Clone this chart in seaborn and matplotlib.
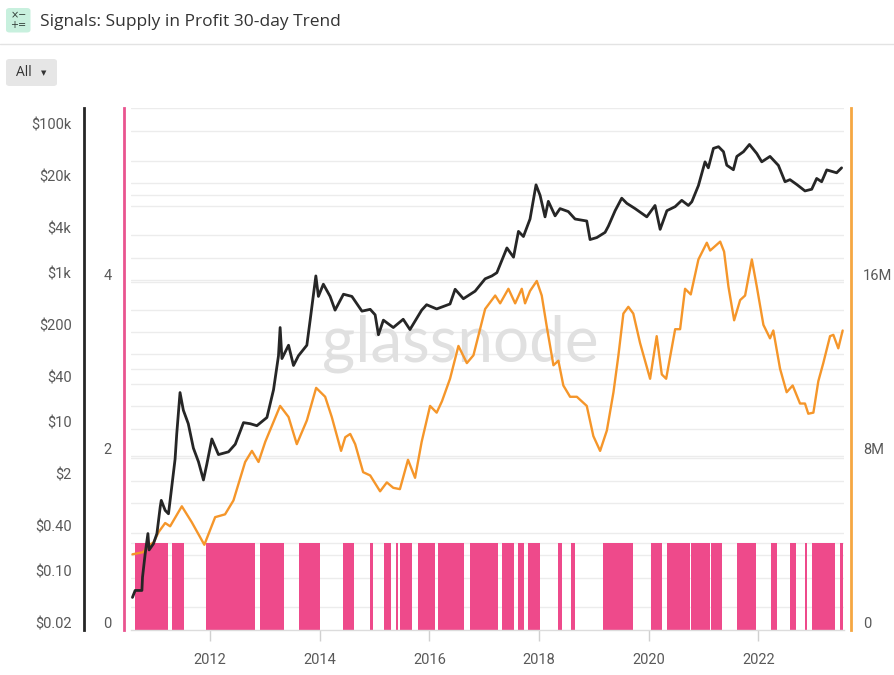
import numpy as np
import pandas as pd
import matplotlib
matplotlib.use('Agg')
import matplotlib.pyplot as plt
import matplotlib.dates as mdates
from matplotlib.transforms import ScaledTranslation, blended_transform_factory
from matplotlib.patches import FancyBboxPatch
from matplotlib.lines import Line2D
from matplotlib.ticker import FixedLocator, FixedFormatter, NullLocator
import seaborn as sns

# --- data ---
price_dates = ['2010-08-01', '2010-08-19', '2010-10-03', '2010-10-07', '2010-10-25', '2010-11-12',
               '2010-11-20', '2010-12-19', '2011-01-11', '2011-02-02', '2011-02-09', '2011-03-07',
               '2011-03-29', '2011-04-09', '2011-05-12', '2011-05-23', '2011-06-14', '2011-07-06',
               '2011-08-08', '2011-09-11', '2011-10-15', '2011-11-17', '2011-12-09', '2012-01-12',
               '2012-02-25', '2012-05-02', '2012-06-16', '2012-08-10', '2012-09-24', '2012-11-07',
               '2013-01-13', '2013-02-26', '2013-03-31', '2013-04-11', '2013-04-23', '2013-06-06',
               '2013-07-09', '2013-08-11', '2013-10-06', '2013-10-28', '2013-12-05', '2013-12-22',
               '2014-01-24', '2014-03-10', '2014-04-12', '2014-06-07', '2014-08-02', '2014-10-08',
               '2014-12-02', '2015-01-04', '2015-01-26', '2015-02-28', '2015-05-05', '2015-07-10',
               '2015-08-24', '2015-11-10', '2015-12-13', '2016-02-18', '2016-05-17', '2016-06-20',
               '2016-08-14', '2016-10-31', '2017-01-06', '2017-02-20', '2017-03-25', '2017-05-31',
               '2017-07-14', '2017-08-16', '2017-09-18', '2017-11-01', '2017-12-11', '2018-01-07',
               '2018-02-09', '2018-03-03', '2018-04-17', '2018-05-20', '2018-07-14', '2018-08-28',
               '2018-11-14', '2018-12-06', '2019-01-20', '2019-03-16', '2019-04-07', '2019-05-22',
               '2019-07-05', '2019-08-08', '2019-10-02', '2019-12-19', '2020-02-12', '2020-03-17',
               '2020-05-01', '2020-06-25', '2020-08-08', '2020-09-21', '2020-10-14', '2020-11-27',
               '2021-01-10', '2021-02-01', '2021-03-07', '2021-04-10', '2021-05-13', '2021-06-04',
               '2021-07-18', '2021-08-10', '2021-09-23', '2021-11-02', '2021-12-21', '2022-01-23',
               '2022-03-19', '2022-05-14', '2022-06-27', '2022-07-30', '2022-09-13', '2022-11-07',
               '2022-12-22', '2023-01-24', '2023-02-26', '2023-04-01', '2023-06-06', '2023-07-09']
price_usd = [0.054, 0.067, 0.067, 0.101, 0.21, 0.39, 0.235, 0.285, 0.39, 0.89, 1.09, 0.8,
             0.72, 1.09, 3.9, 8.5, 30.7, 17.8, 11.7, 5.5, 3.6, 2.05, 3.3, 7.3,
             4.5, 4.9, 6.2, 12.1, 11.7, 11.0, 14.2, 33.5, 96, 230, 88, 133,
             71, 96, 133, 289, 1137, 603, 880, 603, 394, 645, 603, 382,
             404, 341, 184, 289, 230, 297, 216, 394, 466, 409, 477, 752,
             561, 709, 1040, 1137, 1256, 2704, 2030, 4517, 3852, 6624, 19071, 13786,
             7078, 11455, 7306, 9143, 8340, 6624, 6226, 3506, 3729, 4378, 5305, 8570,
             12622, 10762, 9143, 7078, 10071, 4809, 8570, 9718, 11802, 10071, 11290, 18650,
             38900, 32300, 59000, 62150, 53200, 35050, 30450, 46000, 53200, 66600, 50300, 38900,
             46000, 34800, 21000, 22400, 19300, 15800, 16650, 23250, 21000, 30300, 27700, 32300]

supply_dates = ['2010-08-01', '2010-10-12', '2010-11-15', '2010-12-19', '2011-01-22', '2011-03-07',
                '2011-04-09', '2011-06-26', '2011-08-31', '2011-11-23', '2012-02-03', '2012-04-09',
                '2012-06-04', '2012-08-21', '2012-10-05', '2012-11-18', '2013-01-02', '2013-04-11',
                '2013-06-06', '2013-07-31', '2013-10-06', '2013-12-07', '2014-02-05', '2014-03-21',
                '2014-05-22', '2014-06-19', '2014-07-22', '2014-08-24', '2014-10-16', '2014-12-02',
                '2015-02-06', '2015-03-23', '2015-05-05', '2015-06-18', '2015-08-11', '2015-09-27',
                '2015-11-10', '2016-01-05', '2016-02-18', '2016-03-24', '2016-05-17', '2016-07-12',
                '2016-09-06', '2016-10-20', '2017-01-06', '2017-03-14', '2017-04-16', '2017-06-10',
                '2017-07-25', '2017-09-07', '2017-09-29', '2017-11-01', '2017-12-16', '2018-01-18',
                '2018-02-21', '2018-04-06', '2018-05-09', '2018-06-11', '2018-07-26', '2018-09-09',
                '2018-11-14', '2018-12-28', '2019-02-11', '2019-03-28', '2019-05-11', '2019-06-13',
                '2019-07-16', '2019-08-18', '2019-09-20', '2019-11-04', '2020-01-10', '2020-02-23',
                '2020-03-28', '2020-04-26', '2020-06-25', '2020-07-28', '2020-08-30', '2020-10-07',
                '2020-11-27', '2021-01-22', '2021-02-13', '2021-04-21', '2021-05-17', '2021-06-15',
                '2021-07-23', '2021-09-01', '2021-10-04', '2021-11-18', '2021-12-21', '2022-02-03',
                '2022-03-19', '2022-04-10', '2022-05-25', '2022-07-08', '2022-08-17', '2022-10-05',
                '2022-11-07', '2022-11-29', '2023-01-02', '2023-02-04', '2023-03-09', '2023-04-23',
                '2023-05-15', '2023-06-17', '2023-07-16']
# supply in profit, millions of BTC
supply_m = [3.46, 3.56, 3.87, 4.0, 4.48, 4.9, 4.75, 5.67, 4.94, 3.9, 5.17, 5.3,
            5.94, 7.71, 8.22, 7.71, 8.64, 10.29, 9.78, 8.53, 9.62, 11.12, 10.71, 9.78,
            8.22, 8.85, 9.0, 8.53, 7.24, 7.09, 6.36, 6.77, 6.52, 6.46, 7.81, 6.98,
            8.64, 10.29, 9.98, 10.5, 11.54, 13.05, 12.26, 12.62, 14.75, 15.37, 15.01, 15.68,
            15.01, 15.68, 15.01, 15.58, 16.04, 15.37, 13.92, 12.16, 12.37, 11.23, 10.71, 10.71,
            10.29, 8.9, 8.22, 9.16, 10.92, 12.62, 14.54, 14.85, 14.54, 13.19, 11.54, 13.5,
            11.74, 11.54, 13.82, 13.82, 15.68, 15.42, 17.03, 17.8, 17.44, 17.85, 17.39, 15.78,
            14.23, 15.16, 15.37, 17.03, 15.78, 14.02, 13.4, 13.76, 12.0, 10.92, 11.23, 10.4,
            10.4, 9.93, 9.98, 11.43, 12.26, 13.5, 13.56, 12.94, 13.76]

# periods where the 30-day trend signal is on (value 1)
signal_start = ['2010-08-19', '2011-04-21', '2011-12-03', '2012-11-29', '2013-08-16', '2014-06-03',
                '2014-12-02', '2015-03-04', '2015-05-23', '2015-06-19', '2015-10-15', '2016-02-26',
                '2016-09-27', '2017-04-26', '2017-08-14', '2017-10-19', '2018-05-09', '2018-07-30',
                '2019-02-27', '2020-01-16', '2020-04-29', '2020-10-07', '2021-02-20', '2021-08-10',
                '2022-03-26', '2022-07-30', '2022-11-07', '2022-12-22', '2023-06-28']
signal_end = ['2011-03-29', '2011-07-13', '2012-10-27', '2013-05-08', '2014-01-03', '2014-08-13',
              '2014-12-24', '2015-04-18', '2015-06-08', '2015-09-05', '2016-02-10', '2016-08-15',
              '2017-04-03', '2017-07-18', '2017-09-23', '2018-01-04', '2018-06-03', '2018-08-28',
              '2019-09-16', '2020-03-30', '2020-10-03', '2021-02-10', '2021-05-01', '2021-12-16',
              '2022-05-03', '2022-09-09', '2022-11-18', '2023-05-26', '2023-07-16']
signal_value = 1

price_ticks = [0.02, 0.1, 0.4, 2, 10, 40, 200, 1000, 4000, 20000, 100000]
price_tick_labels = ['$0.02', '$0.10', '$0.40', '$2', '$10', '$40', '$200', '$1k', '$4k', '$20k', '$100k']
price_grid = [0.04, 0.1, 0.2, 0.4, 1, 2, 4, 10, 20, 40, 100, 200, 400,
              1000, 2000, 4000, 10000, 20000, 40000, 100000]
signal_ticks = [0, 2, 4]
supply_ticks = [0, 8, 16]
supply_tick_labels = ['0', '8M', '16M']

# --- style ---
sns.set_theme(style='white')
plt.rcParams['font.family'] = ['Roboto', 'DejaVu Sans']

PINK = '#ee4a8b'
PINK_AXIS = '#e9548f'
ORANGE = '#f5962a'
ORANGE_AXIS = '#f5a742'
BLACK = '#262626'
GRID = '#ececec'
TXT = '#595959'
PX = 0.72  # points per pixel at 100 dpi

W, H = 895, 675
fig = plt.figure(figsize=(W / 100, H / 100), dpi=100)
fig.patch.set_facecolor('white')

# plot area in pixels: x 130.5..844, y 108..629.5
ax = fig.add_axes([130.5 / W, 1 - 629.5 / H, (844 - 130.5) / W, (629.5 - 108) / H])
ax_sup = ax.twinx()
ax_price = ax.twinx()

to_num = lambda d: mdates.date2num(pd.to_datetime(d))

# signal bars
x0 = to_num(signal_start)
x1 = to_num(signal_end)
ax.bar(x0, np.full(len(x0), signal_value), width=x1 - x0, align='edge',
       color=PINK, linewidth=0, zorder=2)

# grid lines (signal / supply share the same spacing)
for v in range(1, 7):
    ax.axhline(v, color=GRID, lw=1, zorder=0)
gtrans = blended_transform_factory(ax.transAxes, ax_price.transData)
for v in price_grid:
    ax.add_line(Line2D([0, 1], [v, v], transform=gtrans, color=GRID, lw=1, zorder=0))

ax.text(0.462, 0.548, 'glassnode', transform=ax.transAxes, ha='center', va='center',
        fontsize=46, color='#e0e0e0', family=['Lato', 'DejaVu Sans'], zorder=1)

sns.lineplot(x=to_num(supply_dates), y=np.array(supply_m) * 1e6, ax=ax_sup,
             color=ORANGE, linewidth=1.7)
sns.lineplot(x=to_num(price_dates), y=price_usd, ax=ax_price,
             color=BLACK, linewidth=2.0)

# limits
ax.set_xlim(to_num('2010-07-19'), to_num('2023-07-25'))
ax.set_ylim(0, 6.0)
ax_sup.set_ylim(0, 24e6)
ax_price.set_yscale('log')
ax_price.set_ylim(0.02, 2.06e5)

# x axis
ax.xaxis.set_major_locator(mdates.YearLocator(2))
ax.xaxis.set_major_formatter(mdates.DateFormatter('%Y'))
ax.tick_params(axis='x', bottom=True, length=11 * PX, width=1, color='#d0d0d0',
               labelcolor=TXT, labelsize=10.5, pad=9)

# signal axis (pink)
ax.yaxis.set_major_locator(FixedLocator(signal_ticks))
ax.tick_params(axis='y', left=True, length=0, labelcolor=TXT, labelsize=10.5, pad=12 * PX)
for s in ['top', 'right']:
    ax.spines[s].set_visible(False)
ax.spines['left'].set_position(('outward', 7 * PX))
ax.spines['left'].set_color(PINK_AXIS)
ax.spines['left'].set_linewidth(2)
ax.spines['bottom'].set_color('#dcdcdc')
ax.spines['bottom'].set_linewidth(1)

# supply axis (orange, right)
ax_sup.yaxis.set_major_locator(FixedLocator([v * 1e6 for v in supply_ticks]))
ax_sup.yaxis.set_major_formatter(FixedFormatter(supply_tick_labels))
ax_sup.tick_params(axis='y', right=True, length=0, labelcolor=TXT, labelsize=10.5, pad=12 * PX)
for s in ['top', 'left', 'bottom']:
    ax_sup.spines[s].set_visible(False)
ax_sup.spines['right'].set_position(('outward', 7 * PX))
ax_sup.spines['right'].set_color(ORANGE_AXIS)
ax_sup.spines['right'].set_linewidth(2)
ax_sup.set_ylabel('')

# price axis (black, far left)
ax_price.yaxis.set_ticks_position('left')
ax_price.yaxis.set_label_position('left')
ax_price.yaxis.set_major_locator(FixedLocator(price_ticks))
ax_price.yaxis.set_major_formatter(FixedFormatter(price_tick_labels))
ax_price.yaxis.set_minor_locator(NullLocator())
ax_price.tick_params(axis='y', left=True, right=False, length=0, labelleft=True,
                     labelright=False, labelcolor=TXT, labelsize=10.5, pad=12 * PX)
for s in ['top', 'right', 'bottom']:
    ax_price.spines[s].set_visible(False)
ax_price.spines['left'].set_visible(True)
ax_price.spines['left'].set_position(('outward', 47 * PX))
ax_price.spines['left'].set_color(BLACK)
ax_price.spines['left'].set_linewidth(2)
ax_price.set_ylabel('')

# y labels sit a little above their tick value, as in the source
lift = ScaledTranslation(0, 0.07, fig.dpi_scale_trans)
for a in [ax, ax_sup, ax_price]:
    for lbl in a.get_yticklabels():
        lbl.set_transform(lbl.get_transform() + lift)

# --- header ---
fig.add_artist(FancyBboxPatch((6 / W, 1 - 32.5 / H), 24.5 / W, 24.5 / H,
                              boxstyle='round,pad=0,rounding_size=0.004',
                              transform=fig.transFigure, facecolor='#c8f0de', edgecolor='none'))
fig.text(18.3 / W, 1 - 20.5 / H, '×−\n+=', ha='center', va='center', fontsize=7,
         color='#2f3b35', linespacing=0.95, family=['DejaVu Sans'])
fig.text(40 / W, 1 - 21.5 / H, 'Signals: Supply in Profit 30-day Trend', ha='left', va='center',
         fontsize=12.5, color='#333333', family=['Open Sans', 'DejaVu Sans'])
fig.add_artist(Line2D([0, 1], [1 - 44 / H, 1 - 44 / H], transform=fig.transFigure,
                      color='#e3e3e3', lw=1))
fig.add_artist(FancyBboxPatch((6 / W, 1 - 86 / H), 51 / W, 27 / H,
                              boxstyle='round,pad=0,rounding_size=0.004',
                              transform=fig.transFigure, facecolor='#e6e6e6', edgecolor='none'))
fig.text(16 / W, 1 - 73 / H, 'All', ha='left', va='center', fontsize=10, color='#333333',
         family=['Open Sans', 'DejaVu Sans'])
fig.text(41 / W, 1 - 73 / H, '▼', ha='left', va='center', fontsize=5, color='#333333',
         family=['DejaVu Sans'])

fig.savefig('out.png', dpi=100, facecolor='white')
